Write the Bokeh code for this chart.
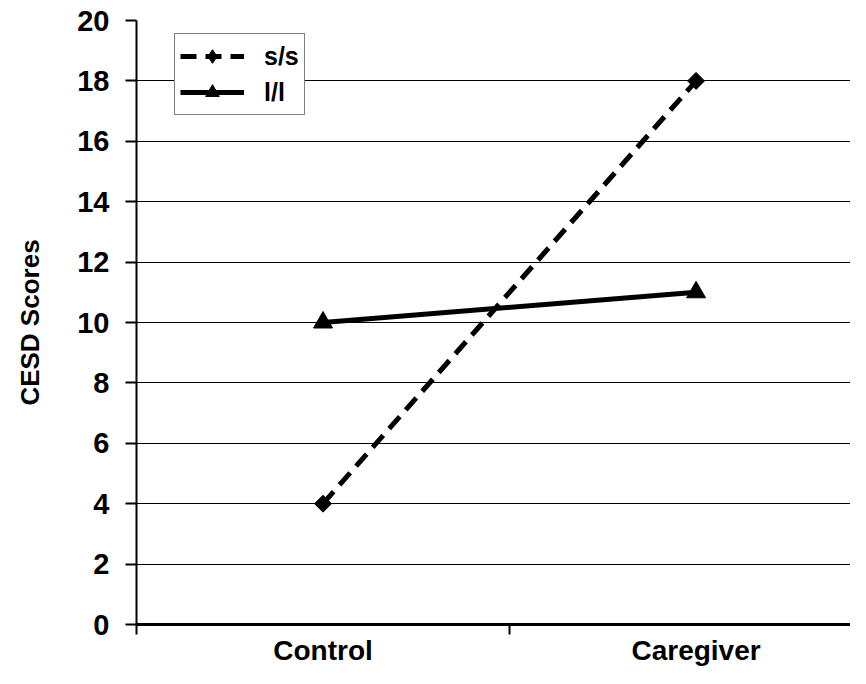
import math
from bokeh.plotting import figure
from bokeh.models import FixedTicker, Range1d, Legend, LegendItem
from bokeh.embed import file_html
from bokeh.resources import INLINE

groups = ["Control", "Caregiver"]
ss_values = [4, 18]
ll_values = [10, 11]
y_ticks = [0, 2, 4, 6, 8, 10, 12, 14, 16, 18, 20]

FONT = "Liberation Sans"

xs = [i + 0.5 for i in range(len(groups))]
boundaries = list(range(len(groups) + 1))

p = figure(width=850, height=668, output_backend="svg", toolbar_location=None,
           x_range=Range1d(0, 1.914), y_range=Range1d(0, 20),
           min_border_left=136, min_border_right=0, min_border_top=20,
           min_border_bottom=40)
p.outline_line_color = None
p.background_fill_color = "white"
p.border_fill_color = "white"

# grid
p.xgrid.visible = False
p.ygrid.ticker = FixedTicker(ticks=y_ticks)
p.ygrid.grid_line_color = "black"
p.ygrid.grid_line_width = 1

# y axis
p.yaxis.ticker = FixedTicker(ticks=y_ticks)
p.yaxis.axis_line_width = 2
p.yaxis.axis_line_color = "black"
p.yaxis.major_tick_out = 11
p.yaxis.major_tick_in = 0
p.yaxis.major_tick_line_width = 2
p.yaxis.minor_tick_line_color = None
p.yaxis.major_label_text_font = FONT
p.yaxis.major_label_text_font_style = "bold"
p.yaxis.major_label_text_font_size = "29px"
p.yaxis.major_label_text_color = "black"
p.yaxis.major_label_standoff = 16
p.yaxis.axis_label = "CESD Scores"
p.yaxis.axis_label_text_font = FONT
p.yaxis.axis_label_text_font_style = "bold"
p.yaxis.axis_label_text_font_size = "26px"
p.yaxis.axis_label_text_color = "black"
p.yaxis.axis_label_standoff = 29

# x axis: category names at centres, boundary ticks as minor ticks
p.xaxis.ticker = FixedTicker(ticks=xs, minor_ticks=boundaries)
p.xaxis.major_label_overrides = {x: g for x, g in zip(xs, groups)}
p.xaxis.axis_line_width = 3
p.xaxis.axis_line_color = "black"
p.xaxis.major_tick_line_color = None
p.xaxis.major_tick_out = 0
p.xaxis.major_tick_in = 0
p.xaxis.minor_tick_out = 10
p.xaxis.minor_tick_in = 0
p.xaxis.minor_tick_line_width = 2
p.xaxis.minor_tick_line_color = "black"
p.xaxis.major_label_text_font = FONT
p.xaxis.major_label_text_font_style = "bold"
p.xaxis.major_label_text_font_size = "28px"
p.xaxis.major_label_text_color = "black"
p.xaxis.major_label_standoff = 0

# series
ss_line = p.line(xs, ss_values, line_color="black", line_width=5, line_dash="16 9")
ss_mark = p.scatter(xs, ss_values, marker="square", angle=math.pi / 4, size=12,
                    fill_color="black", line_color="black")
ss_dia = p.scatter(xs, ss_values, marker="diamond", size=15,
                   fill_color="black", line_color="black")
ll_line = p.line(xs, ll_values, line_color="black", line_width=5)
ll_mark = p.scatter(xs, ll_values, marker="triangle", size=19,
                    fill_color="black", line_color="black")

legend = Legend(items=[LegendItem(label="s/s", renderers=[ss_line, ss_dia]),
                       LegendItem(label="l/l", renderers=[ll_line, ll_mark])],
                location=(38, 509))
legend.label_text_font = FONT
legend.label_text_font_style = "bold"
legend.label_text_font_size = "25px"
legend.label_text_color = "black"
legend.glyph_width = 64
legend.glyph_height = 34
legend.label_height = 30
legend.label_standoff = 20
legend.padding = 5
legend.spacing = 2
legend.margin = 0
legend.border_line_color = "black"
legend.border_line_width = 1
legend.background_fill_alpha = 1.0
p.add_layout(legend)

open("out.html", "w").write(file_html(p, INLINE))
